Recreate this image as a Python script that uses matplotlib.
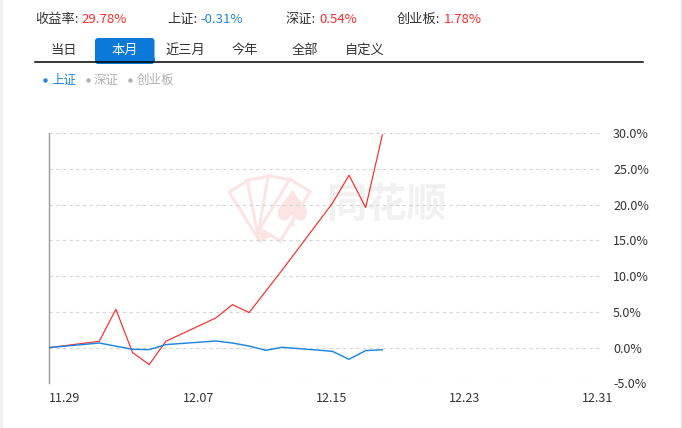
import matplotlib
matplotlib.use("Agg")
import matplotlib.pyplot as plt
import matplotlib.patches as mpatches
import pandas as pd

plt.rcParams['font.family'] = ['Noto Sans CJK SC', 'DejaVu Sans']

# ---- data ----
dates = ['2019-11-29', '2019-12-02', '2019-12-03', '2019-12-04', '2019-12-05',
         '2019-12-06', '2019-12-09', '2019-12-10', '2019-12-11', '2019-12-12',
         '2019-12-13', '2019-12-16', '2019-12-17', '2019-12-18', '2019-12-19']
portfolio = [0.0, 0.88, 5.36, -0.70, -2.38, 0.88, 4.15, 6.02, 4.90, 7.9,
             10.9, 20.2, 24.13, 19.6, 29.78]
shanghai = [0.0, 0.64, 0.20, -0.24, -0.28, 0.42, 0.92, 0.64, 0.22, -0.38,
            0.04, -0.52, -1.64, -0.42, -0.31]
tick_dates = ['2019-11-29', '2019-12-07', '2019-12-15', '2019-12-23', '2019-12-31']
tick_labels = ['11.29', '12.07', '12.15', '12.23', '12.31']
y_ticks = [-5, 0, 5, 10, 15, 20, 25, 30]
header_labels = ['收益率:', '上证:', '深证:', '创业板:']
header_values = ['29.78%', '-0.31%', '0.54%', '1.78%']
tabs = ['当日', '本月', '近三月', '今年', '全部', '自定义']
legend_items = ['上证', '深证', '创业板']

RED = '#ff2a2a'
BLUE = '#1f86e0'
TXT = '#333333'
PINK = '#fde4e4'

W, H = 682, 428
fig = plt.figure(figsize=(W / 100, H / 100), dpi=100)

# background / overlay axes in pixel coordinates
bg = fig.add_axes([0, 0, 1, 1], zorder=0)
bg.set_xlim(0, W)
bg.set_ylim(H, 0)
bg.axis('off')

# page borders
bg.add_patch(mpatches.Rectangle((0, 0), 3, H, color='#f0f0f0', lw=0))
bg.plot([681, 681], [0, H], color='#e6e6e6', lw=1)

# header
hx = [35, 167, 286, 397]
vx = [81, 200, 319, 444]
vcol = [RED, BLUE, RED, RED]
for lab, val, x0, x1, c in zip(header_labels, header_values, hx, vx, vcol):
    bg.text(x0, 19, lab, fontsize=9.5, color=TXT, va='center', ha='left')
    bg.text(x1, 19, val, fontsize=9.5, color=c, va='center', ha='left')

# tabs
tab_cx = [64, 125, 185, 245, 305, 365]
bg.add_patch(mpatches.FancyBboxPatch((95, 38), 59.5, 26, boxstyle='round,pad=0,rounding_size=3',
                                     facecolor='#0b79d8', edgecolor='none'))
for t, cx in zip(tabs, tab_cx):
    bg.text(cx, 50, t, fontsize=9.5, color='white' if t == '本月' else TXT,
            va='center', ha='center')
bg.add_patch(mpatches.Rectangle((95, 58), 59.5, 3, facecolor='#0b79d8', edgecolor='none'))
bg.plot([35, 642.5], [61.5, 61.5], color='black', lw=1.1)

# legend
lg_dot = [45, 87.5, 129.5]
lg_txt = [51, 93.5, 136.5]
lg_col = [BLUE, '#b0b0b0', '#b0b0b0']
for it, dx, tx, c in zip(legend_items, lg_dot, lg_txt, lg_col):
    bg.plot(dx, 80, marker='o', ms=2.2, color=c, mec=c)
    bg.text(tx, 80, it, fontsize=9, color=c, va='center', ha='left')

# watermark (fan of cards + spade + brand text)
for ang in [-32, -11, 10, 31]:
    bg.add_patch(mpatches.Rectangle((270 - 12, 235 - 58), 24, 58, angle=ang,
                                    rotation_point=(270, 235), facecolor='white',
                                    edgecolor=PINK, lw=2.2))
bg.text(292, 212, '♠', fontsize=36, color=PINK, ha='center', va='center',
        family='DejaVu Sans')
bg.text(387, 205, '同花顺', fontsize=29, color='#f1f1f1', ha='center', va='center',
        fontweight='bold', style='italic')

# main chart axes
left, right, top, bottom = 49.3, 603.3, 133.3, 383.3
ax = fig.add_axes([left / W, 1 - bottom / H, (right - left) / W, (bottom - top) / H], zorder=1)
ax.patch.set_alpha(0)

x = pd.to_datetime(dates)
ax.plot(x, portfolio, color=RED, lw=0.85, zorder=3)
ax.plot(x, shanghai, color=BLUE, lw=1.05, zorder=4)

x0 = pd.Timestamp(dates[0])
ax.set_xlim(x0, x0 + pd.Timedelta(days=33.27))
ax.set_ylim(-5, 30)

ax.set_yticks(y_ticks)
ax.set_yticklabels([f'{v:.1f}%' for v in y_ticks])
ax.yaxis.tick_right()
ax.tick_params(axis='y', length=0, pad=7, labelsize=9, labelcolor=TXT)

ax.set_xticks(pd.to_datetime(tick_dates))
ax.set_xticklabels(tick_labels)
ax.tick_params(axis='x', length=0, pad=6, labelsize=9, labelcolor=TXT)
for lab in ax.get_xticklabels():
    lab.set_ha('left')

ax.grid(axis='y', color='#d6d6d6', lw=0.8, linestyle=(0, (3, 3)))
ax.grid(axis='x', visible=False)
for s in ['top', 'right', 'bottom']:
    ax.spines[s].set_visible(False)
ax.spines['left'].set_color('#9a9a9a')
ax.spines['left'].set_linewidth(1)

fig.savefig('out.png', dpi=100)
